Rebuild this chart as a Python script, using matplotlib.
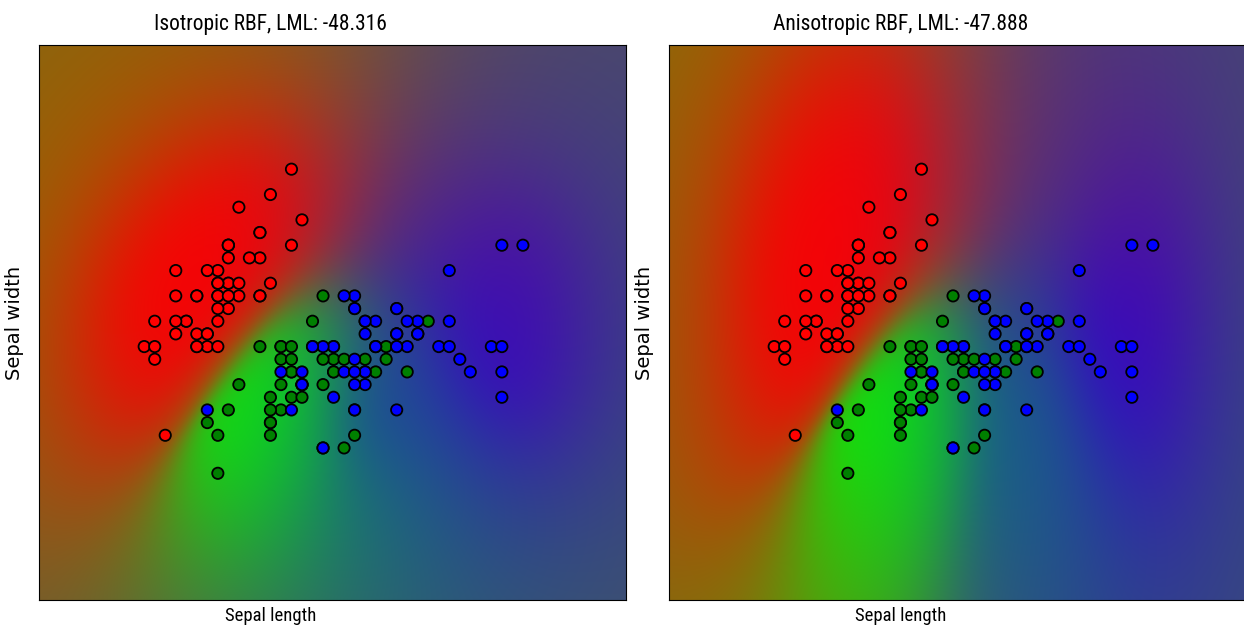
import numpy as np
import matplotlib
matplotlib.use("Agg")
import matplotlib.pyplot as plt

# iris: sepal length / sepal width (cm), species 0 = setosa, 1 = versicolor, 2 = virginica
sepal_length = [
    5.1, 4.9, 4.7, 4.6, 5.0, 5.4, 4.6, 5.0, 4.4, 4.9, 5.4, 4.8, 4.8, 4.3, 5.8, 5.7, 5.4, 5.1, 5.7, 5.1,
    5.4, 5.1, 4.6, 5.1, 4.8, 5.0, 5.0, 5.2, 5.2, 4.7, 4.8, 5.4, 5.2, 5.5, 4.9, 5.0, 5.5, 4.9, 4.4, 5.1,
    5.0, 4.5, 4.4, 5.0, 5.1, 4.8, 5.1, 4.6, 5.3, 5.0,
    7.0, 6.4, 6.9, 5.5, 6.5, 5.7, 6.3, 4.9, 6.6, 5.2, 5.0, 5.9, 6.0, 6.1, 5.6, 6.7, 5.6, 5.8, 6.2, 5.6,
    5.9, 6.1, 6.3, 6.1, 6.4, 6.6, 6.8, 6.7, 6.0, 5.7, 5.5, 5.5, 5.8, 6.0, 5.4, 6.0, 6.7, 6.3, 5.6, 5.5,
    5.5, 6.1, 5.8, 5.0, 5.6, 5.7, 5.7, 6.2, 5.1, 5.7,
    6.3, 5.8, 7.1, 6.3, 6.5, 7.6, 4.9, 7.3, 6.7, 7.2, 6.5, 6.4, 6.8, 5.7, 5.8, 6.4, 6.5, 7.7, 7.7, 6.0,
    6.9, 5.6, 7.7, 6.3, 6.7, 7.2, 6.2, 6.1, 6.4, 7.2, 7.4, 7.9, 6.4, 6.3, 6.1, 7.7, 6.3, 6.4, 6.0, 6.9,
    6.7, 6.9, 5.8, 6.8, 6.7, 6.7, 6.3, 6.5, 6.2, 5.9,
]
sepal_width = [
    3.5, 3.0, 3.2, 3.1, 3.6, 3.9, 3.4, 3.4, 2.9, 3.1, 3.7, 3.4, 3.0, 3.0, 4.0, 4.4, 3.9, 3.5, 3.8, 3.8,
    3.4, 3.7, 3.6, 3.3, 3.4, 3.0, 3.4, 3.5, 3.4, 3.2, 3.1, 3.4, 4.1, 4.2, 3.1, 3.2, 3.5, 3.6, 3.0, 3.4,
    3.5, 2.3, 3.2, 3.5, 3.8, 3.0, 3.8, 3.2, 3.7, 3.3,
    3.2, 3.2, 3.1, 2.3, 2.8, 2.8, 3.3, 2.4, 2.9, 2.7, 2.0, 3.0, 2.2, 2.9, 2.9, 3.1, 3.0, 2.7, 2.2, 2.5,
    3.2, 2.8, 2.5, 2.8, 2.9, 3.0, 2.8, 3.0, 2.9, 2.6, 2.4, 2.4, 2.7, 2.7, 3.0, 3.4, 3.1, 2.3, 3.0, 2.5,
    2.6, 3.0, 2.6, 2.3, 2.7, 3.0, 2.9, 2.9, 2.5, 2.8,
    3.3, 2.7, 3.0, 2.9, 3.0, 3.0, 2.5, 2.9, 2.5, 3.6, 3.2, 2.7, 3.0, 2.5, 2.8, 3.2, 3.0, 3.8, 2.6, 2.2,
    3.2, 2.8, 2.8, 2.7, 3.3, 3.2, 2.8, 3.0, 2.8, 3.0, 2.8, 3.8, 2.8, 2.8, 2.6, 3.0, 3.4, 3.1, 3.0, 3.1,
    3.1, 3.1, 2.7, 3.2, 3.3, 3.0, 2.5, 3.0, 3.4, 3.0,
]
species = [0] * 50 + [1] * 50 + [2] * 50
point_colors = ["r", "g", "b"]

titles = ["Isotropic RBF", "Anisotropic RBF"]
lml_values = [-48.316, -47.888]

X = np.column_stack([sepal_length, sepal_width])
y = np.array(species)

narrow = ["Roboto Condensed", "Liberation Sans Narrow", "DejaVu Sans"]


def rbf(A, B, amp, ls):
    A = A / ls
    B = B / ls
    sq = (A ** 2).sum(1)[:, None] + (B ** 2).sum(1)[None, :] - 2 * A.dot(B.T)
    return amp * np.exp(-0.5 * np.maximum(sq, 0))


def sigmoid(f):
    return 0.5 * (1 + np.tanh(0.5 * f))


def laplace(K, t):
    # Newton iterations for the posterior mode (Rasmussen & Williams, alg. 3.1)
    n = len(t)
    f = np.zeros(n)
    lml = -np.inf
    for _ in range(200):
        pi = sigmoid(f)
        sW = np.sqrt(pi * (1 - pi))
        L = np.linalg.cholesky(np.eye(n) + sW[:, None] * K * sW[None, :])
        b = pi * (1 - pi) * f + (t - pi)
        c = np.linalg.solve(L.T, np.linalg.solve(L, sW * K.dot(b)))
        a = b - sW * c
        f = K.dot(a)
        new = (-0.5 * a.dot(f) - np.logaddexp(0, -(2 * t - 1) * f).sum()
               - np.log(np.diag(L)).sum())
        if new - lml < 1e-10:
            break
        lml = new
    return f, lml


def fit_kernel(t, n_ls):
    # simple compass search on log(amplitude), log(length scales)
    def score(p):
        p = np.clip(p, -11.5, 11.5)
        return laplace(rbf(X, X, np.exp(p[0]), np.exp(p[1:])), t)[1]

    p = np.zeros(1 + n_ls)
    best = score(p)
    step = 1.0
    while step > 0.005:
        moved = False
        for i in range(len(p)):
            for s in (step, -step):
                q = p.copy()
                q[i] += s
                v = score(q)
                if v > best + 1e-9:
                    p, best, moved = q, v, True
        if not moved:
            step /= 2
    p = np.clip(p, -11.5, 11.5)
    return np.exp(p[0]), np.exp(p[1:])


def predict(t, amp, ls, G):
    K = rbf(X, X, amp, ls)
    f, _ = laplace(K, t)
    pi = sigmoid(f)
    sW = np.sqrt(pi * (1 - pi))
    L = np.linalg.cholesky(np.eye(len(t)) + sW[:, None] * K * sW[None, :])
    Ks = rbf(X, G, amp, ls)
    mean = Ks.T.dot(t - pi)
    v = np.linalg.solve(L, sW[:, None] * Ks)
    var = np.maximum(amp - (v ** 2).sum(0), 1e-12)
    return sigmoid(mean / np.sqrt(1 + np.pi * var / 8))


h = 0.02
x_min, x_max = X[:, 0].min() - 1, X[:, 0].max() + 1
y_min, y_max = X[:, 1].min() - 1, X[:, 1].max() + 1
xx, yy = np.meshgrid(np.arange(x_min, x_max, h), np.arange(y_min, y_max, h))
grid = np.c_[xx.ravel(), yy.ravel()]

fig = plt.figure(figsize=(12.44, 6.31), dpi=100)
axes_left = [39 / 1244, 669 / 1244]

for i, n_ls in enumerate((1, 2)):
    ax = fig.add_axes([axes_left[i], 31 / 631, 587 / 1244, 555 / 631])
    probs = []
    for k in range(3):
        t = (y == k).astype(float)
        amp, ls = fit_kernel(t, n_ls)
        probs.append(predict(t, amp, ls, grid))
    Z = np.column_stack(probs)
    Z /= Z.sum(1, keepdims=True)
    Z = Z.reshape((xx.shape[0], xx.shape[1], 3))

    ax.imshow(Z, extent=(x_min, x_max, y_min, y_max), origin="lower",
              aspect="auto", interpolation="bilinear")
    ax.scatter(X[:, 0], X[:, 1], c=np.array(point_colors)[y], s=66,
               edgecolors=(0, 0, 0), linewidths=1.3)
    ax.set_xlim(xx.min(), xx.max())
    ax.set_ylim(yy.min(), yy.max())
    ax.set_xticks(())
    ax.set_yticks(())
    ax.set_title("%s, LML: %.3f" % (titles[i], lml_values[i]), x=0.395, pad=11,
                 fontsize=15.5, family=narrow)
    ax.set_xlabel("Sepal length", fontsize=13.5, family=narrow)
    ax.xaxis.set_label_coords(0.395, -0.013)
    ax.set_ylabel("Sepal width", fontsize=14)
    ax.yaxis.set_label_coords(-0.026, 0.5)

fig.savefig("out.png", dpi=100)
